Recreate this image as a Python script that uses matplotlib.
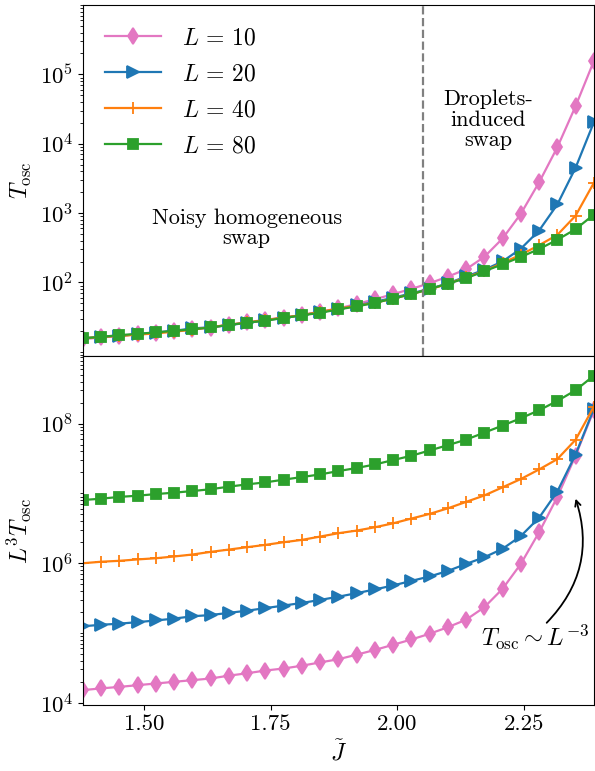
import numpy as np
import matplotlib
matplotlib.use("Agg")
import matplotlib.pyplot as plt
from matplotlib.ticker import FixedLocator, LogLocator, NullFormatter

plt.rcParams["font.family"] = "serif"
plt.rcParams["font.serif"] = ["cmr10"]
plt.rcParams["mathtext.fontset"] = "cm"
plt.rcParams["axes.formatter.use_mathtext"] = True
plt.rcParams["axes.unicode_minus"] = False

# Coupling values
J = [1.380, 1.416, 1.452, 1.488, 1.524, 1.560, 1.596, 1.632, 1.668, 1.704,
     1.740, 1.776, 1.812, 1.848, 1.884, 1.920, 1.956, 1.992, 2.028, 2.064,
     2.100, 2.136, 2.172, 2.208, 2.244, 2.280, 2.316, 2.352, 2.388]

# Oscillation time for each system size
T_L10 = [15.2, 16.1, 16.9, 17.9, 18.9, 20.0, 21.1, 22.3, 24.5, 26.5,
         29.0, 31.0, 34.0, 37.9, 42.1, 48.9, 57.2, 67.8, 80.7, 97.5,
         121, 155, 234, 430, 977, 2770, 8870, 34750, 155000]
T_L20 = [15.6, 16.4, 17.0, 17.9, 18.9, 20.1, 21.7, 22.6, 24.3, 26.1,
         28.4, 30.9, 33.7, 37.2, 41.4, 46.5, 52.6, 60.0, 69.7, 80.7,
         96.8, 122, 152, 201, 306, 560, 1330, 4500, 20300]
T_L40 = [15.6, 16.4, 16.9, 17.7, 18.4, 19.5, 20.8, 22.7, 24.5, 26.5,
         28.6, 31.2, 33.7, 37.6, 42.0, 45.8, 51.1, 58.2, 68.1, 79.4,
         95.5, 118, 146, 191, 251, 344, 484, 916, 2720]
T_L80 = [15.7, 16.4, 17.4, 18.1, 19.1, 20.0, 21.1, 22.4, 24.4, 26.3,
         28.1, 30.7, 33.5, 36.5, 40.8, 45.1, 50.7, 58.6, 67.6, 80.4,
         95.9, 115, 145, 183, 233, 303, 412, 586, 948]

sizes = [10, 20, 40, 80]
series = [T_L10, T_L20, T_L40, T_L80]
colors = ["#e377c2", "#1f77b4", "#ff7f0e", "#2ca02c"]
markers = ["d", ">", "+", "s"]
msizes = [8, 8, 9, 6.5]

J_cross = 2.05

fig = plt.figure(figsize=(5.95, 7.71), dpi=100)
ax1 = fig.add_axes([0.1395, 0.5383, 0.8585, 0.4552])
ax2 = fig.add_axes([0.1395, 0.0856, 0.8585, 0.4527], sharex=ax1)

x = np.array(J)
for L, T, c, m, ms in zip(sizes, series, colors, markers, msizes):
    T = np.array(T)
    ax1.plot(x, T, color=c, marker=m, ms=ms, lw=1.6, mew=1.3,
             label=r"$L\,=\,%d$" % L)
    ax2.plot(x, L**3 * T, color=c, marker=m, ms=ms, lw=1.6, mew=1.3)

ax1.axvline(J_cross, color="gray", ls="--", lw=1.6)

for ax in (ax1, ax2):
    ax.set_yscale("log")
    ax.yaxis.set_minor_locator(LogLocator(base=10, subs=np.arange(1, 10), numticks=30))
    ax.yaxis.set_minor_formatter(NullFormatter())
    ax.tick_params(labelsize=16.5)

ax1.set_xlim(1.38, 2.388)
ax1.set_ylim(8.7, 1e6)
ax1.yaxis.set_major_locator(FixedLocator([1e2, 1e3, 1e4, 1e5]))
ax1.tick_params(axis="x", bottom=False, labelbottom=False)

ax2.set_ylim(9.3e3, 9.3e8)
ax2.yaxis.set_major_locator(FixedLocator([1e4, 1e6, 1e8]))
ax2.set_xticks([1.50, 1.75, 2.00, 2.25])
ax2.set_xticklabels(["1.50", "1.75", "2.00", "2.25"])

ax1.set_ylabel(r"$T_{\rm osc}$", fontsize=17)
ax2.set_ylabel(r"$L^3 T_{\rm osc}$", fontsize=17)
ax2.set_xlabel(r"$\tilde{J}$", fontsize=17)

ax1.legend(loc="upper left", frameon=False, fontsize=17, handlelength=2.35,
           borderaxespad=0.55, labelspacing=0.58, handletextpad=0.9)

ax1.text(1.703, 600, "Noisy homogeneous\nswap", ha="center", va="center",
         fontsize=16, linespacing=1.05)
ax1.text(2.179, 2.2e4, "Droplets-\ninduced\nswap", ha="center", va="center",
         fontsize=16, linespacing=1.05)

ax2.text(2.272, 8.7e4, r"$T_{\rm osc} \sim L^{-3}$", ha="center", va="center",
         fontsize=17.5)
ax2.annotate("", xy=(2.352, 8.4e6), xytext=(2.295, 1.4e5),
             arrowprops=dict(arrowstyle="->", color="black", lw=1.3,
                             connectionstyle="arc3,rad=0.3",
                             shrinkA=0, shrinkB=0))

fig.savefig("out.png", dpi=100)
